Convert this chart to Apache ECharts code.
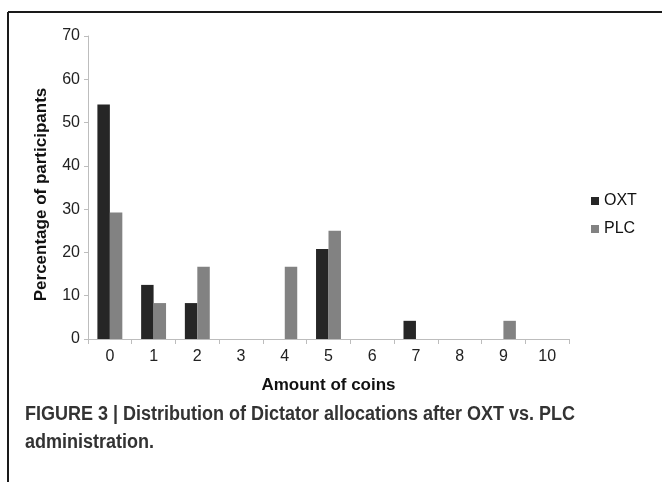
<!DOCTYPE html>
<html>
<head>
<meta charset="utf-8">
<script src="https://cdn.jsdelivr.net/npm/echarts@6/dist/echarts.min.js"></script>
<style>
html,body{margin:0;padding:0;background:#fff;}
#chart{width:662px;height:482px;}
</style>
</head>
<body>
<div id="chart"></div>
<script>
const categories = ['0','1','2','3','4','5','6','7','8','9','10'];
const oxtValues = [54.2, 12.5, 8.3, 0, 0, 20.8, 0, 4.2, 0, 0, 0];
const plcValues = [29.2, 8.3, 16.7, 0, 16.7, 25.0, 0, 0, 0, 4.2, 0];
const seriesNames = ['OXT', 'PLC'];
const yTicks = { min: 0, max: 70, interval: 10 };
const xTitle = 'Amount of coins';
const yTitle = 'Percentage of participants';
const captionLines = ['FIGURE 3 | Distribution of Dictator allocations after OXT vs. PLC', 'administration.'];

const chart = echarts.init(document.getElementById('chart'), null, {renderer: 'canvas'});
const fontMain = 'Liberation Sans, Arial, sans-serif';
const axisGray = '#bdbdbd';
const captionFont = 'bold 20px "Liberation Sans", Arial, sans-serif';
chart.setOption({
  animation: false,
  backgroundColor: '#ffffff',
  grid: { left: 88, right: 93, top: 36, bottom: 143, containLabel: false },
  legend: {
    orient: 'vertical',
    left: 586,
    top: 188,
    itemWidth: 8,
    itemHeight: 8,
    itemGap: 12,
    icon: 'rect',
    textStyle: { fontFamily: fontMain, fontSize: 16, color: '#111' },
    data: seriesNames
  },
  xAxis: {
    type: 'category',
    data: categories,
    name: xTitle,
    nameLocation: 'middle',
    nameGap: 38,
    nameTextStyle: { fontFamily: fontMain, fontSize: 17, fontWeight: 'bold', color: '#111' },
    axisLine: { lineStyle: { color: axisGray, width: 1 } },
    axisTick: { show: true, length: 5, lineStyle: { color: axisGray } },
    axisLabel: { fontFamily: fontMain, fontSize: 16, color: '#222', margin: 10 },
    boundaryGap: true
  },
  yAxis: {
    type: 'value',
    min: yTicks.min,
    max: yTicks.max,
    interval: yTicks.interval,
    name: yTitle,
    nameLocation: 'middle',
    nameGap: 38,
    nameRotate: 90,
    nameTextStyle: { fontFamily: fontMain, fontSize: 17, fontWeight: 'bold', color: '#111', padding: [0, 14, 0, 0] },
    axisLine: { show: true, lineStyle: { color: axisGray, width: 1 } },
    axisTick: { show: true, length: 4, lineStyle: { color: axisGray } },
    axisLabel: { fontFamily: fontMain, fontSize: 16, color: '#222', margin: 8 },
    splitLine: { show: false }
  },
  series: [
    { name: seriesNames[0], type: 'bar', data: oxtValues, barGap: '0%', barCategoryGap: '43%',
      itemStyle: { color: '#262626' } },
    { name: seriesNames[1], type: 'bar', data: plcValues, barGap: '0%', barCategoryGap: '43%',
      itemStyle: { color: '#828282' } }
  ],
  graphic: [
    { type: 'line', shape: { x1: 8, y1: 12, x2: 662, y2: 12 }, style: { stroke: '#1a1a1a', lineWidth: 2 } },
    { type: 'line', shape: { x1: 8, y1: 12, x2: 8, y2: 482 }, style: { stroke: '#1a1a1a', lineWidth: 2 } },
    { type: 'text', x: 25, y: 404, scaleX: 0.9, style: { text: captionLines[0], font: captionFont, fill: '#333' } },
    { type: 'text', x: 25, y: 432, scaleX: 0.9, style: { text: captionLines[1], font: captionFont, fill: '#333' } }
  ]
});
</script>
</body>
</html>
